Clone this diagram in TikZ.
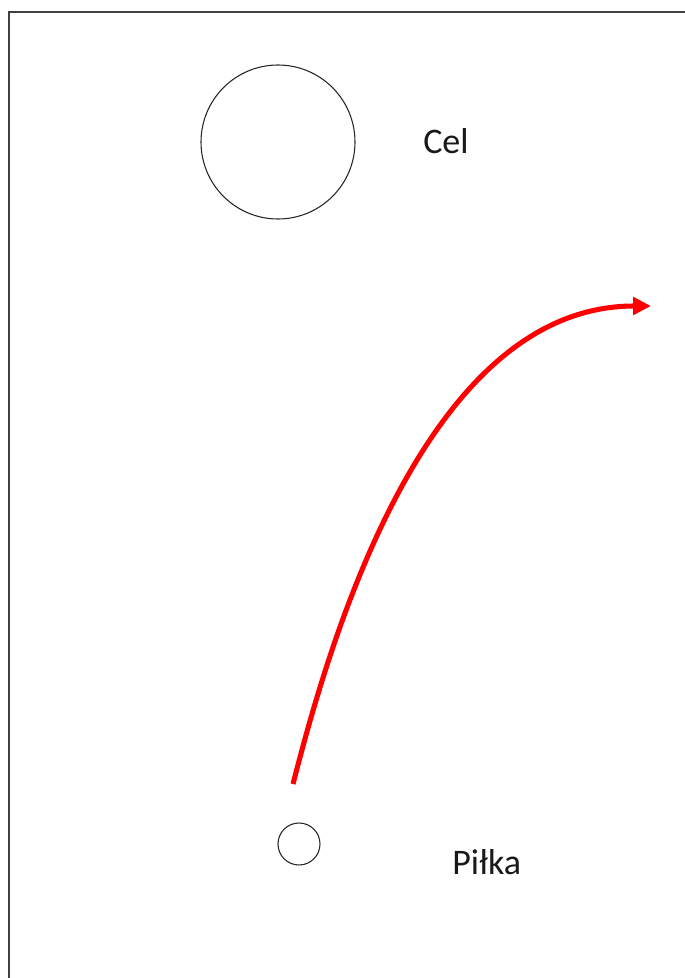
\documentclass[tikz,border=0pt]{standalone}
\usepackage{fontspec}
\setmainfont{Carlito}
\usetikzlibrary{arrows.meta,positioning}

\begin{document}
\begin{tikzpicture}[
  x=0.75pt,
  y=-0.75pt,
  >={Triangle[length=13.5pt,width=13pt]},
  frame/.style={draw=black!75, line width=1.6pt},
  target/.style={circle, draw=black!85, line width=0.8pt, minimum size=115.5pt, inner sep=0pt},
  ball/.style={circle, draw=black!85, line width=0.8pt, minimum size=31.5pt, inner sep=0pt},
  label/.style={font=\fontsize{27}{32}\selectfont, text=black!90, inner sep=0pt},
  path/.style={->, line width=3.8pt, draw=red},
]

\useasboundingbox (0,0) rectangle (685,978);
\draw[frame] (9,978) -- (9,12) -- (685,12);

\node[target] (cel) at (278,142) {};
\node[label, anchor=west] (celtext) at (423,141) {Cel};

\node[ball] (pilka) at (299,844) {};
\node[label, anchor=west] (pilkatext) at (452,862) {Piłka};

\coordinate (launch) at (293,784);
\coordinate (tip) at (651,306);
\draw[path] (launch) .. controls (325,660) and (420,306) .. (tip);

\end{tikzpicture}
\end{document}
